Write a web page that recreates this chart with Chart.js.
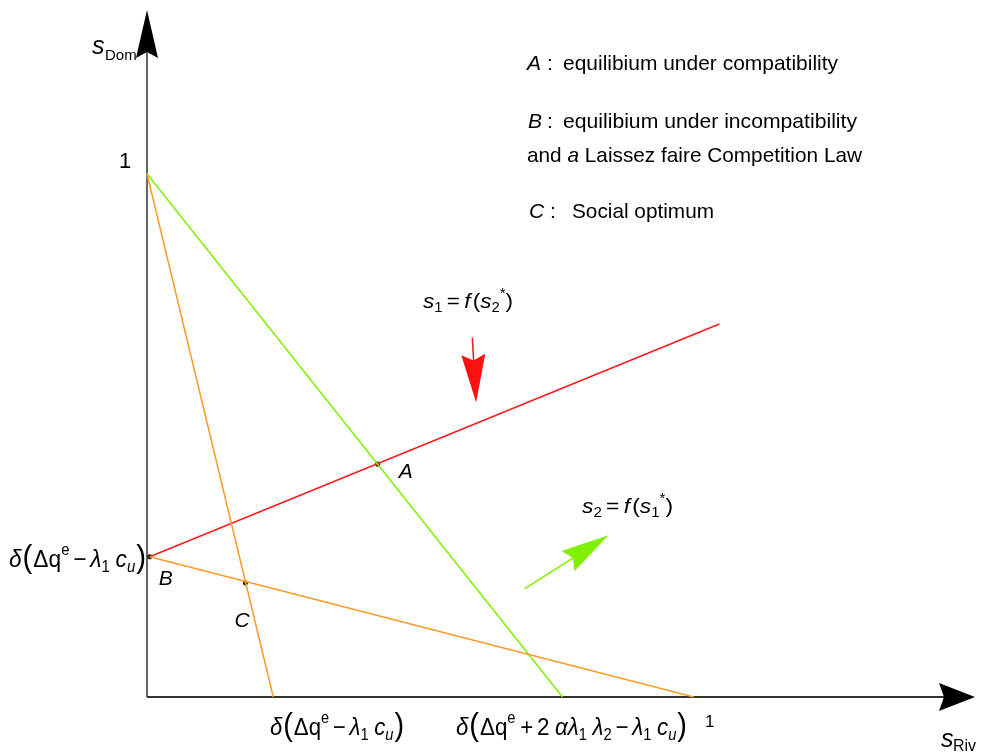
<!DOCTYPE html>
<html>
<head>
<meta charset="utf-8">
<title>Compatibility equilibria</title>
<script src="https://cdn.jsdelivr.net/npm/chart.js@4.4.1/dist/chart.umd.min.js"></script>
<style>
  html, body { margin: 0; padding: 0; background: #fff; }
  canvas { display: block; }
</style>
</head>
<body>
<canvas id="chart" width="982" height="752"></canvas>
<script>
// reaction functions and welfare lines, in (s_Riv, s_Dom) units
const redX = [0.005, 1.047];        // s1 = f(s2*)
const redY = [0.268, 0.713];
const greenX = [0, 0.76];           // s2 = f(s1*)
const greenY = [1, 0];
const steepX = [0, 0.231];          // orange, through C
const steepY = [1, 0];
const flatX = [0.005, 1];           // orange, from B to 1
const flatY = [0.268, 0];

const pointNames = ['A', 'B', 'C'];
const pointX = [0.422, 0.005, 0.18];
const pointY = [0.445, 0.268, 0.218];

// shift arrows (tail -> tip)
const redShiftX = [0.595, 0.602];
const redShiftY = [0.687, 0.563];
const greenShiftX = [0.691, 0.844];
const greenShiftY = [0.207, 0.309];

const FONT = '"Liberation Sans", Arial, sans-serif';

function pairs(xs, ys) {
  return xs.map((x, i) => ({ x: x, y: ys[i] }));
}

function lineSet(xs, ys, color) {
  return {
    data: pairs(xs, ys),
    showLine: true,
    borderColor: color,
    borderWidth: 1.5,
    pointRadius: 0,
    fill: false
  };
}

function runFont(r, size) {
  return (r.i ? 'italic ' : '') + (size * (r.k || 1)) + 'px ' + FONT;
}

// draws text made of runs: {t, i: italic, k: size factor, dy: shift in em, g: extra gap}
// if width is given the whole thing is squeezed/stretched to it
function drawRuns(ctx, x, y, size, runs, width) {
  let total = 0;
  runs.forEach(r => {
    ctx.font = runFont(r, size);
    total += ctx.measureText(r.t).width + (r.g || 0);
  });
  ctx.save();
  ctx.translate(x, y);
  if (width) ctx.scale(width / total, 1);
  let cx = 0;
  runs.forEach(r => {
    ctx.font = runFont(r, size);
    ctx.fillText(r.t, cx, (r.dy || 0) * size);
    cx += ctx.measureText(r.t).width + (r.g || 0);
  });
  ctx.restore();
}

const SUB = { k: 0.66, dy: 0.2 };
const SUP = { k: 0.66, dy: -0.5 };
const BIG = { k: 1.3, dy: 0 };

function sub(t, extra) { return Object.assign({ t: t }, SUB, extra || {}); }
function sup(t, extra) { return Object.assign({ t: t }, SUP, extra || {}); }
function big(t, extra) { return Object.assign({ t: t }, BIG, extra || {}); }

function deltaShort() {
  return [
    { t: 'δ', i: true, g: 1 }, big('(', { g: 1 }), { t: 'Δq' }, sup('e', { g: 4 }),
    { t: '−', g: 4 }, { t: 'λ', i: true }, sub('1', { g: 6 }),
    { t: 'c', i: true }, sub('u', { i: true, g: 1 }), big(')')
  ];
}

function deltaLong() {
  return [
    { t: 'δ', i: true, g: 1 }, big('(', { g: 1 }), { t: 'Δq' }, sup('e', { g: 5 }),
    { t: '+', g: 4 }, { t: '2', g: 6 }, { t: 'α', i: true }, { t: 'λ', i: true }, sub('1', { g: 6 }),
    { t: 'λ', i: true }, sub('2', { g: 4 }), { t: '−', g: 4 },
    { t: 'λ', i: true }, sub('1', { g: 6 }),
    { t: 'c', i: true }, sub('u', { i: true, g: 1 }), big(')')
  ];
}

function arrowHead(ctx, tx, ty, bx, by, len, half, notch) {
  const ang = Math.atan2(ty - by, tx - bx);
  const c = Math.cos(ang), s = Math.sin(ang);
  const px = -s, py = c;
  const baseX = tx - c * len, baseY = ty - s * len;
  ctx.beginPath();
  ctx.moveTo(tx, ty);
  ctx.lineTo(baseX + px * half, baseY + py * half);
  ctx.lineTo(tx - c * (len - notch), ty - s * (len - notch));
  ctx.lineTo(baseX - px * half, baseY - py * half);
  ctx.closePath();
  ctx.fill();
}

const axesPlugin = {
  id: 'axes',
  beforeDatasetsDraw(chart) {
    const ctx = chart.ctx;
    const xs = chart.scales.x, ys = chart.scales.y;
    const ox = xs.getPixelForValue(0), oy = ys.getPixelForValue(0);
    const right = chart.chartArea.right - 2, top = chart.chartArea.top + 5;
    ctx.save();
    ctx.lineWidth = 2;
    ctx.strokeStyle = '#666';
    ctx.beginPath();
    ctx.moveTo(ox, oy);
    ctx.lineTo(ox, top + 30);
    ctx.stroke();
    ctx.strokeStyle = '#333';
    ctx.beginPath();
    ctx.moveTo(ox, oy);
    ctx.lineTo(right - 25, oy);
    ctx.stroke();
    ctx.fillStyle = '#000';
    arrowHead(ctx, ox, top, ox, oy, 48, 11, 6);
    arrowHead(ctx, right, oy, ox, oy, 36, 14, 5);
    ctx.restore();
  }
};

const notesPlugin = {
  id: 'notes',
  afterDatasetsDraw(chart) {
    const ctx = chart.ctx;
    const xs = chart.scales.x, ys = chart.scales.y;
    const px = v => xs.getPixelForValue(v), py = v => ys.getPixelForValue(v);
    ctx.save();

    // shift arrows
    [[redShiftX, redShiftY, '#ff1010'], [greenShiftX, greenShiftY, '#7ff000']].forEach(a => {
      const x0 = px(a[0][0]), y0 = py(a[1][0]), x1 = px(a[0][1]), y1 = py(a[1][1]);
      ctx.strokeStyle = a[2];
      ctx.fillStyle = a[2];
      ctx.lineWidth = 1.5;
      ctx.beginPath();
      ctx.moveTo(x0, y0);
      ctx.lineTo(x1 - (x1 - x0) * 0.3, y1 - (y1 - y0) * 0.3);
      ctx.stroke();
      arrowHead(ctx, x1, y1, x0, y0, 48, 12, 6);
    });

    ctx.fillStyle = '#000';
    ctx.textBaseline = 'alphabetic';

    // axis names and unit ticks
    drawRuns(ctx, 92, 54, 25, [{ t: 's', i: true }]);
    drawRuns(ctx, 105, 60, 15, [{ t: 'Dom' }]);
    drawRuns(ctx, 941, 747, 25, [{ t: 's', i: true }]);
    drawRuns(ctx, 953, 751, 16, [{ t: 'Riv' }]);
    drawRuns(ctx, 119, 168, 22, [{ t: '1' }]);
    drawRuns(ctx, 705, 727, 17, [{ t: '1' }]);

    // intercept labels
    drawRuns(ctx, 9, 567, 24, deltaShort(), 137);
    drawRuns(ctx, 270, 735, 24, deltaShort(), 134);
    drawRuns(ctx, 456, 735, 24, deltaLong(), 231);

    // point labels
    const offs = { A: [21, 14], B: [9, 28], C: [-11, 44] };
    pointNames.forEach((n, i) => {
      const o = offs[n];
      drawRuns(ctx, px(pointX[i]) + o[0], py(pointY[i]) + o[1], 21, [{ t: n, i: true }]);
    });

    // reaction function names
    drawRuns(ctx, 423, 308, 21, [
      { t: 's', i: true }, sub('1', { g: 4 }), { t: '=', g: 4 }, { t: 'f', i: true, g: 2 },
      { t: '(' }, { t: 's', i: true }, sub('2'), sup('*'), { t: ')' }
    ], 90);
    drawRuns(ctx, 582, 513, 21, [
      { t: 's', i: true }, sub('2', { g: 4 }), { t: '=', g: 4 }, { t: 'f', i: true, g: 2 },
      { t: '(' }, { t: 's', i: true }, sub('1'), sup('*'), { t: ')' }
    ], 91);

    // key
    drawRuns(ctx, 527, 70, 21, [{ t: 'A', i: true }]);
    drawRuns(ctx, 547, 70, 21, [{ t: ':' }]);
    drawRuns(ctx, 563, 70, 21, [{ t: 'equilibium under compatibility' }], 275);
    drawRuns(ctx, 528, 128, 21, [{ t: 'B', i: true }]);
    drawRuns(ctx, 547, 128, 21, [{ t: ':' }]);
    drawRuns(ctx, 563, 128, 21, [{ t: 'equilibium under incompatibility' }], 294);
    drawRuns(ctx, 527, 162, 21, [{ t: 'and ' }, { t: 'a', i: true }, { t: ' Laissez faire Competition Law' }], 335);
    drawRuns(ctx, 529, 218, 21, [{ t: 'C', i: true }]);
    drawRuns(ctx, 550, 218, 21, [{ t: ':' }]);
    drawRuns(ctx, 572, 218, 21, [{ t: 'Social optimum' }], 142);

    ctx.restore();
  }
};

new Chart(document.getElementById('chart'), {
  type: 'scatter',
  data: {
    datasets: [
      lineSet(steepX, steepY, '#ff9a2a'),
      lineSet(flatX, flatY, '#ff9a2a'),
      lineSet(greenX, greenY, '#80f000'),
      lineSet(redX, redY, '#ff1a1a'),
      {
        data: pairs(pointX, pointY),
        pointRadius: 2.2,
        pointBackgroundColor: '#222',
        pointBorderColor: '#222',
        showLine: false
      }
    ]
  },
  options: {
    responsive: false,
    animation: false,
    clip: false,
    layout: { padding: { left: 147, right: 0, top: 0, bottom: 55 } },
    plugins: { legend: { display: false }, tooltip: { enabled: false } },
    scales: {
      x: { type: 'linear', display: false, min: 0, max: 835 / 550 },
      y: { type: 'linear', display: false, min: 0, max: 697 / 527 }
    }
  },
  plugins: [axesPlugin, notesPlugin]
});
</script>
</body>
</html>
